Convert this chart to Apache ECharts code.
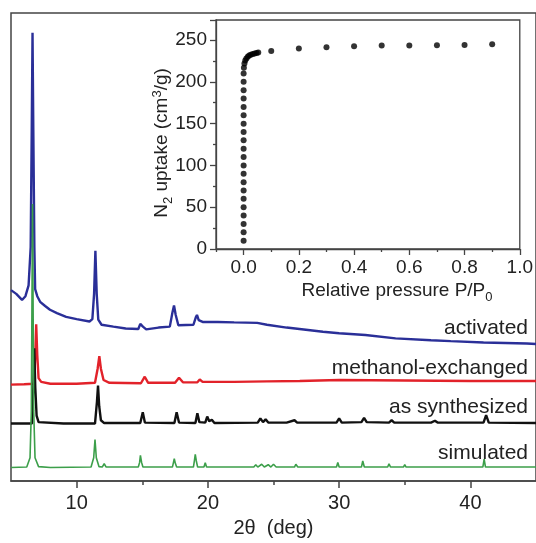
<!DOCTYPE html>
<html><head><meta charset="utf-8">
<script src="https://cdn.jsdelivr.net/npm/echarts@6/dist/echarts.min.js"></script>
<style>html,body{margin:0;padding:0;background:#fff}#c{width:536px;height:543px}</style>
</head><body><div id="c"></div>
<script>
// ---- XRD patterns: [2theta, stacked intensity (a.u., offset included)] ----
const activated = [[5.0,40.8],[5.4,40.0],[5.84,38.7],[6.1,39.5],[6.34,41.8],[6.5,50],[6.58,75],[6.64,95.8],[6.7,75],[6.78,50],[6.84,41],[7.0,39.5],[7.22,38.3],[7.6,37.4],[7.97,36.6],[8.5,35.9],[9.2,35.1],[10.0,34.6],[10.98,34.1],[11.2,34.6],[11.33,40],[11.43,49.2],[11.53,40],[11.65,34.5],[11.9,33.4],[12.8,33.0],[13.74,32.6],[14.7,32.5],[14.85,33.6],[14.94,34.0],[15.05,33.0],[15.3,32.4],[16.24,32.8],[17.1,33.0],[17.3,36.0],[17.42,37.5],[17.55,35.5],[17.75,33.3],[18.9,33.4],[19.08,35],[19.17,35.5],[19.3,34.4],[19.6,34],[20.75,34],[22,33.9],[23.76,33.8],[24.5,33.4],[26,32.8],[28.77,31.9],[30,31.6],[32,31.2],[34.3,30.5],[37,30.1],[38.5,29.9],[41,29.6],[44.3,29.4],[45,29.3]];
const methanolExchanged = [[5,20.6],[6.0,20.7],[6.75,20.8],[6.85,27],[6.92,33.5],[7.0,27],[7.1,22],[7.3,21.2],[8,20.8],[10,20.8],[11.4,21.0],[11.6,24],[11.73,26.7],[11.85,24],[12.05,21.6],[12.5,21.0],[14.9,20.9],[15.19,22.3],[15.45,21],[17.5,21],[17.8,22.1],[18.1,21.1],[19.2,21.1],[19.38,21.7],[19.6,21.2],[22,21.2],[24.5,21.3],[27,21.4],[30,21.6],[35,21.5],[40,21.4],[45,21.4]];
const asSynthesized = [[5,12.3],[6.6,12.3],[6.7,20],[6.77,28.4],[6.85,20],[6.95,14],[7.1,12.6],[9,12.3],[11.4,12.3],[11.55,17],[11.63,20.4],[11.72,16],[11.85,13],[12.1,12.4],[14.85,12.4],[15.04,14.7],[15.2,12.5],[17.45,12.4],[17.62,14.7],[17.8,12.5],[19.05,12.4],[19.2,14.5],[19.35,12.6],[19.8,12.5],[19.95,13.8],[20.1,12.8],[20.3,13.1],[20.5,12.4],[23.8,12.5],[24.0,13.4],[24.2,12.6],[24.4,13.2],[24.6,12.5],[26,12.5],[26.6,13],[26.8,12.5],[29.8,12.5],[30.0,13.4],[30.2,12.5],[31.7,12.6],[31.9,13.5],[32.1,12.6],[33.8,12.5],[34,13.0],[34.2,12.5],[37,12.5],[37.3,12.9],[37.5,12.5],[41.0,12.5],[41.2,14.1],[41.4,12.5],[45,12.4]];
const simulated = [[5,2.9],[6.2,3.0],[6.45,5],[6.55,15],[6.64,59.2],[6.73,15],[6.83,5],[7.1,3.1],[8,2.9],[11.1,3.0],[11.3,5],[11.4,8.9],[11.5,5],[11.7,3.1],[11.95,3.0],[12.1,3.7],[12.25,3.0],[14.7,3.0],[14.8,4],[14.86,5.5],[14.95,4],[15.05,3.0],[17.3,3.0],[17.38,4],[17.44,4.8],[17.52,3.8],[17.62,3.0],[18.9,3.0],[18.98,4.5],[19.04,5.7],[19.12,4.3],[19.22,3.0],[19.7,3.0],[19.8,3.9],[19.9,3.0],[20.05,3.4],[20.15,3.0],[23.5,3.0],[23.65,3.5],[23.8,3.0],[24.1,3.6],[24.3,3.0],[24.6,3.5],[24.8,3.0],[25.0,3.6],[25.2,3.0],[26.6,3.0],[26.7,3.6],[26.85,3.0],[27.6,3.0],[27.7,3.4],[27.8,3.0],[29.8,3.0],[29.9,4.0],[30.0,3.0],[31.7,3.0],[31.8,4.3],[31.92,3.0],[33.7,3.0],[33.8,3.7],[33.92,3.0],[34.9,3.0],[35.0,3.5],[35.1,3.0],[37.0,3.0],[37.1,3.4],[37.2,3.0],[40.95,3.0],[41.05,4.7],[41.15,3.0],[43.2,3.0],[43.3,3.4],[43.4,3.0],[45,3.0]];

// ---- N2 isotherm (inset) ----
const relPressure = [0,0,0,0,0,0,0,0,0,0,0,0,0,0,0,0,0,0,0,0,0,0.001,0.003,0.006,0.01,0.015,0.02,0.026,0.033,0.04,0.047,0.053,0.1,0.2,0.3,0.4,0.5,0.6,0.7,0.8,0.9];
const uptake = [10,20,30,40,50,60,70,80,90,100,110,120,130,140,150,160,170,180,190,200,210,217,222,225.5,228,230,231.5,232.5,233.3,234,234.5,235,237,240,241.4,242.6,243.4,243.6,243.8,244,245];

// ---- ticks / labels ----
const mainTicks = [10,20,30,40];
const mainMinorTicks = [15,25,35];
const insetXTicks = [0,0.2,0.4,0.6,0.8,1.0];
const insetXMinorTicks = [-0.1,0.1,0.3,0.5,0.7,0.9];
const patternNames = ['activated','methanol-exchanged','as synthesized','simulated'];
const patternColors = ['#2a2f98','#e2222a','#111111','#3c9f4a'];

const FONT = '"Liberation Sans", Arial, Helvetica, sans-serif';
const TXT = '#222';
const AX = '#444';

const chart = echarts.init(document.getElementById('c'), null, {renderer:'canvas'});
const isoData = relPressure.map((p,i)=>[p, uptake[i]]);
const patterns = [activated, methanolExchanged, asSynthesized, simulated];
const labelY = [328, 368, 407, 453];

const option = {
  animation:false,
  backgroundColor:'#fff',
  textStyle:{fontFamily:FONT},
  grid:[
    {left:11, top:13, width:532, height:476, show:true, borderColor:AX, borderWidth:1.5, backgroundColor:'#fff'},
    {left:216, top:20, width:312, height:229, show:true, borderColor:AX, borderWidth:1.3, backgroundColor:'#fff'}
  ],
  xAxis:[
    {gridIndex:0, type:'value', min:5, max:45, position:'bottom',
     axisLine:{onZero:false, lineStyle:{color:AX, width:1.5}},
     axisTick:{customValues:mainTicks, length:7, lineStyle:{color:AX, width:1.5}},
     axisLabel:{customValues:mainTicks, fontSize:20, color:TXT, margin:12, fontFamily:FONT},
     splitLine:{show:false},
     name:'2θ  (deg)', nameLocation:'middle', nameGap:34, nameTextStyle:{fontSize:20, color:TXT, fontFamily:FONT}},
    {gridIndex:0, type:'value', min:5, max:45, position:'bottom',
     axisLine:{show:false, onZero:false},
     axisTick:{customValues:mainMinorTicks, length:4, lineStyle:{color:AX, width:1.5}},
     axisLabel:{show:false}, splitLine:{show:false}},
    {gridIndex:1, type:'value', min:-0.1, max:1.0, position:'bottom',
     axisLine:{onZero:false, lineStyle:{color:AX, width:1.3}},
     axisTick:{customValues:insetXTicks, length:6, lineStyle:{color:AX, width:1.3}},
     axisLabel:{customValues:insetXTicks, fontSize:19, color:TXT, margin:9, fontFamily:FONT, formatter:v=>Number(v).toFixed(1)},
     splitLine:{show:false}},
    {gridIndex:1, type:'value', min:-0.1, max:1.0, position:'bottom',
     axisLine:{show:false, onZero:false},
     axisTick:{customValues:insetXMinorTicks, length:3, lineStyle:{color:AX, width:1.3}},
     axisLabel:{show:false}, splitLine:{show:false}}
  ],
  yAxis:[
    {gridIndex:0, type:'value', min:0, max:100, show:false},
    {gridIndex:1, type:'value', min:0, max:274, interval:50, position:'left',
     axisLine:{show:true, onZero:false, lineStyle:{color:AX, width:1.3}},
     axisTick:{show:true, length:6, lineStyle:{color:AX, width:1.3}},
     minorTick:{show:true, splitNumber:2, length:3, lineStyle:{color:AX, width:1.3}},
     axisLabel:{showMaxLabel:false, fontSize:19, color:TXT, margin:9, fontFamily:FONT},
     splitLine:{show:false}}
  ],
  series: patterns.map((d,i)=>({
    type:'line', xAxisIndex:0, yAxisIndex:0, data:d, showSymbol:false, smooth:false,
    lineStyle:{color:patternColors[i], width: i===3 ? 1.6 : 2.4}, z: 2+i
  })).concat([{
    type:'scatter', xAxisIndex:2, yAxisIndex:1, data:isoData, symbolSize:6,
    itemStyle:{color:'#000'}, z:10
  }]),
  graphic:[
    ...patternNames.map((t,i)=>({
      type:'text', x:528, y:labelY[i], z:20,
      style:{text:t, fill:TXT, font:'21px '+FONT, textAlign:'right', textVerticalAlign:'middle'}
    })),
    {type:'text', x:397, y:291, z:20,
     style:{text:'{n|Relative pressure P/P}{s|0}', textAlign:'center', textVerticalAlign:'middle', fill:TXT,
       rich:{n:{fontSize:19, fontFamily:FONT, fill:TXT, lineHeight:24}, s:{fontSize:13, fontFamily:FONT, fill:TXT, padding:[12,0,0,0]}}}},
    {type:'text', x:162, y:143, rotation:Math.PI/2, z:20,
     style:{text:'{n|N}{s|2}{n| uptake (cm}{p|3}{n|/g)}', textAlign:'center', textVerticalAlign:'middle', fill:TXT,
       rich:{n:{fontSize:19, fontFamily:FONT, fill:TXT, lineHeight:24}, s:{fontSize:13, fontFamily:FONT, fill:TXT, padding:[12,0,0,0]}, p:{fontSize:13, fontFamily:FONT, fill:TXT, padding:[0,0,10,0]}}}}
  ]
};
chart.setOption(option);
</script>
</body></html>
